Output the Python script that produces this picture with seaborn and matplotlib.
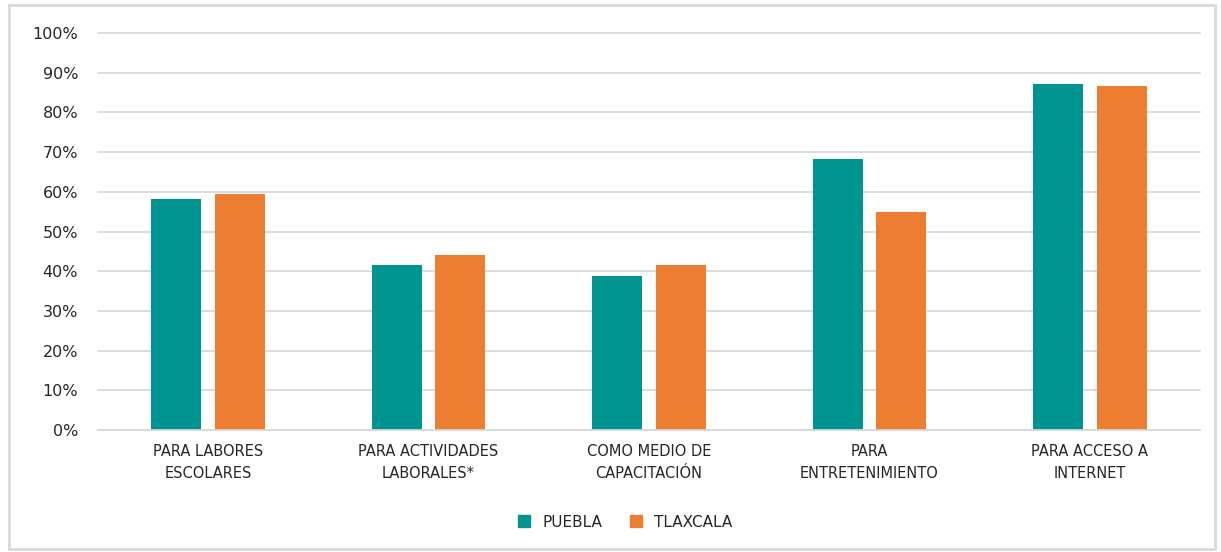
import matplotlib
matplotlib.use("Agg")
import matplotlib.pyplot as plt
from matplotlib.patches import Rectangle
from matplotlib.lines import Line2D
import seaborn as sns
import pandas as pd

# Data
categories = [
    "PARA LABORES\nESCOLARES",
    "PARA ACTIVIDADES\nLABORALES*",
    "COMO MEDIO DE\nCAPACITACIÓN",
    "PARA\nENTRETENIMIENTO",
    "PARA ACCESO A\nINTERNET",
]
puebla = [58.2, 41.7, 38.8, 68.3, 87.3]
tlaxcala = [59.5, 44.0, 41.7, 55.0, 86.8]
states = ["Puebla", "Tlaxcala"]
legend_labels = ["PUEBLA", "TLAXCALA"]
colors = ["#009491", "#ED7D31"]

df = pd.DataFrame({
    "categoria": categories * 2,
    "estado": [states[0]] * len(categories) + [states[1]] * len(categories),
    "valor": puebla + tlaxcala,
})

sns.set_style("white")
plt.rcParams["font.family"] = ["DejaVu Sans"]
text_color = "#262626"
grid_color = "#d9d9d9"

fig = plt.figure(figsize=(12.21, 5.52), dpi=100)
ax = fig.add_axes([0.080, 0.221, 0.903, 0.719])

sns.barplot(data=df, x="categoria", y="valor", hue="estado",
            palette=colors, saturation=1, width=0.576, gap=0.21, ax=ax,
            legend=False, linewidth=0)

ax.set_ylim(0, 100)
ax.set_yticks(range(0, 101, 10))
ax.set_yticklabels([f"{v}%" for v in range(0, 101, 10)],
                   fontsize=11.5, color=text_color)
ax.set_xticks(range(len(categories)))
ax.set_xticklabels(categories, fontsize=10.5, color=text_color,
                   linespacing=1.6)
ax.tick_params(axis="both", length=0)
ax.tick_params(axis="y", pad=14)
ax.tick_params(axis="x", pad=10)
ax.set_xlabel("")
ax.set_ylabel("")
ax.yaxis.grid(True, color=grid_color, linewidth=1.3)
for gl in ax.get_ygridlines():
    gl.set_clip_on(False)
ax.set_axisbelow(True)
for side in ["top", "right", "left"]:
    ax.spines[side].set_visible(False)
ax.spines["bottom"].set_color(grid_color)
ax.spines["bottom"].set_linewidth(1.3)

handles = [Line2D([0], [0], marker="s", linestyle="", markersize=8,
                  markerfacecolor=c, markeredgecolor=c) for c in colors]
fig.legend(handles, legend_labels, loc="center", bbox_to_anchor=(0.508, 0.054),
           ncol=2, frameon=False, fontsize=11, handletextpad=0.2,
           columnspacing=1.2, labelcolor=text_color)

# light frame around the whole chart
fig.patches.append(Rectangle((0.007, 0.006), 0.988, 0.985,
                             transform=fig.transFigure, fill=False,
                             edgecolor=grid_color, linewidth=2))

fig.savefig("out.png", dpi=100)
